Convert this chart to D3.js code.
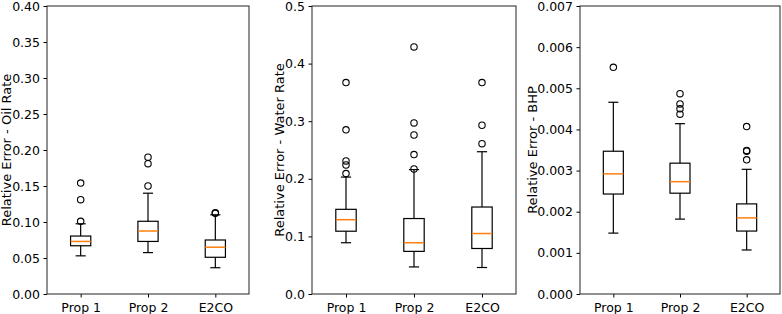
<!DOCTYPE html>
<html>
<head>
<meta charset="utf-8">
<script src="https://cdn.jsdelivr.net/npm/d3@7"></script>
<style>
  body { margin: 0; background: #fff; }
  svg text { font-family: "DejaVu Sans", sans-serif; fill: #000; }
</style>
</head>
<body>
<div id="chart"></div>
<script>
// categories shared by all three panels
const categories = ["Prop 1", "Prop 2", "E2CO"];

// box stats per category: [whiskerLow, q1, median, q3, whiskerHigh]
const oilStats = [
    [0.053, 0.067, 0.073, 0.0805, 0.0975],
    [0.0575, 0.073, 0.0875, 0.101, 0.140],
    [0.0365, 0.051, 0.065, 0.075, 0.110]
];
const oilOutliers = [
    [0.101, 0.131, 0.154],
    [0.150, 0.181, 0.190],
    [0.112, 0.113]
];

const waterStats = [
    [0.089, 0.109, 0.129, 0.147, 0.203],
    [0.047, 0.074, 0.089, 0.131, 0.216],
    [0.046, 0.079, 0.105, 0.151, 0.247]
];
const waterOutliers = [
    [0.209, 0.224, 0.231, 0.285, 0.367],
    [0.217, 0.242, 0.276, 0.297, 0.429],
    [0.261, 0.293, 0.367]
];

const bhpStats = [
    [0.00148, 0.00243, 0.00292, 0.00347, 0.00466],
    [0.00182, 0.00245, 0.00273, 0.00318, 0.00414],
    [0.00107, 0.00153, 0.00185, 0.00219, 0.00303]
];
const bhpOutliers = [
    [0.00551],
    [0.00437, 0.00450, 0.00462, 0.00487],
    [0.00326, 0.00347, 0.00349, 0.00407]
];

// y tick labels
const oilTicks = [0, 0.05, 0.10, 0.15, 0.20, 0.25, 0.30, 0.35, 0.40];
const waterTicks = [0, 0.1, 0.2, 0.3, 0.4, 0.5];
const bhpTicks = [0, 0.001, 0.002, 0.003, 0.004, 0.005, 0.006, 0.007];

const panels = [
    { left: 47, right: 249, label: "Relative Error - Oil Rate", labelX: 6, stats: oilStats, outliers: oilOutliers, ticks: oilTicks, fmt: d3.format(".2f") },
    { left: 312, right: 516, label: "Relative Error - Water Rate", labelX: 279, stats: waterStats, outliers: waterOutliers, ticks: waterTicks, fmt: d3.format(".1f") },
    { left: 580, right: 780, label: "Relative Error - BHP", labelX: 532, stats: bhpStats, outliers: bhpOutliers, ticks: bhpTicks, fmt: d3.format(".3f") }
];

const width = 782, height = 314;
const plotTop = 6, plotBottom = 294;
const fontSize = 12.5;

const svg = d3.select("#chart").append("svg")
    .attr("width", width)
    .attr("height", height);

panels.forEach(p => {
    const x = d3.scaleLinear().domain([0.5, 3.5]).range([p.left, p.right]);
    const y = d3.scaleLinear().domain([0, p.ticks[p.ticks.length - 1]]).range([plotBottom, plotTop]);

    const g = svg.append("g");

    // y axis
    const yAxis = d3.axisLeft(y)
        .tickValues(p.ticks)
        .tickFormat(p.fmt)
        .tickSize(3.5)
        .tickPadding(3.5);
    const ya = g.append("g")
        .attr("transform", `translate(${p.left},0)`)
        .call(yAxis);
    ya.select(".domain").remove();
    ya.selectAll("text").style("font-size", fontSize + "px");
    ya.selectAll("line").attr("stroke", "#000");

    // x axis
    const xAxis = d3.axisBottom(x)
        .tickValues([1, 2, 3])
        .tickFormat((d, i) => categories[i])
        .tickSize(3.5)
        .tickPadding(5.5);
    const xa = g.append("g")
        .attr("transform", `translate(0,${plotBottom})`)
        .call(xAxis);
    xa.select(".domain").remove();
    xa.selectAll("text").style("font-size", fontSize + "px");
    xa.selectAll("line").attr("stroke", "#000");

    // y label
    g.append("text")
        .attr("transform", `translate(${p.labelX},${(plotTop + plotBottom) / 2}) rotate(-90)`)
        .attr("text-anchor", "middle")
        .attr("dominant-baseline", "central")
        .style("font-size", "13px")
        .text(p.label);

    // boxes
    const boxW = x(1.15) - x(0.85);
    const capW = boxW / 2;

    p.stats.forEach((s, i) => {
        const cx = x(i + 1);
        const [lo, q1, med, q3, hi] = s;
        const bg = g.append("g");

        // whiskers
        bg.append("line").attr("x1", cx).attr("x2", cx).attr("y1", y(q1)).attr("y2", y(lo))
            .attr("stroke", "#000").attr("stroke-width", 1.2);
        bg.append("line").attr("x1", cx).attr("x2", cx).attr("y1", y(q3)).attr("y2", y(hi))
            .attr("stroke", "#000").attr("stroke-width", 1.2);
        // caps
        [lo, hi].forEach(v => {
            bg.append("line").attr("x1", cx - capW / 2).attr("x2", cx + capW / 2)
                .attr("y1", y(v)).attr("y2", y(v))
                .attr("stroke", "#000").attr("stroke-width", 1.2);
        });
        // box
        bg.append("rect")
            .attr("x", cx - boxW / 2)
            .attr("y", y(q3))
            .attr("width", boxW)
            .attr("height", y(q1) - y(q3))
            .attr("fill", "none")
            .attr("stroke", "#000")
            .attr("stroke-width", 1.2);
        // median
        bg.append("line").attr("x1", cx - boxW / 2).attr("x2", cx + boxW / 2)
            .attr("y1", y(med)).attr("y2", y(med))
            .attr("stroke", "#ff7f0e").attr("stroke-width", 1.5);
        // outliers
        bg.selectAll("circle")
            .data(p.outliers[i])
            .enter()
            .append("circle")
            .attr("cx", cx)
            .attr("cy", d => y(d))
            .attr("r", 3.2)
            .attr("fill", "none")
            .attr("stroke", "#000")
            .attr("stroke-width", 1.1);
    });

    // frame
    g.append("rect")
        .attr("x", p.left)
        .attr("y", plotTop)
        .attr("width", p.right - p.left)
        .attr("height", plotBottom - plotTop)
        .attr("fill", "none")
        .attr("stroke", "#222")
        .attr("stroke-width", 1);
});
</script>
</body>
</html>
